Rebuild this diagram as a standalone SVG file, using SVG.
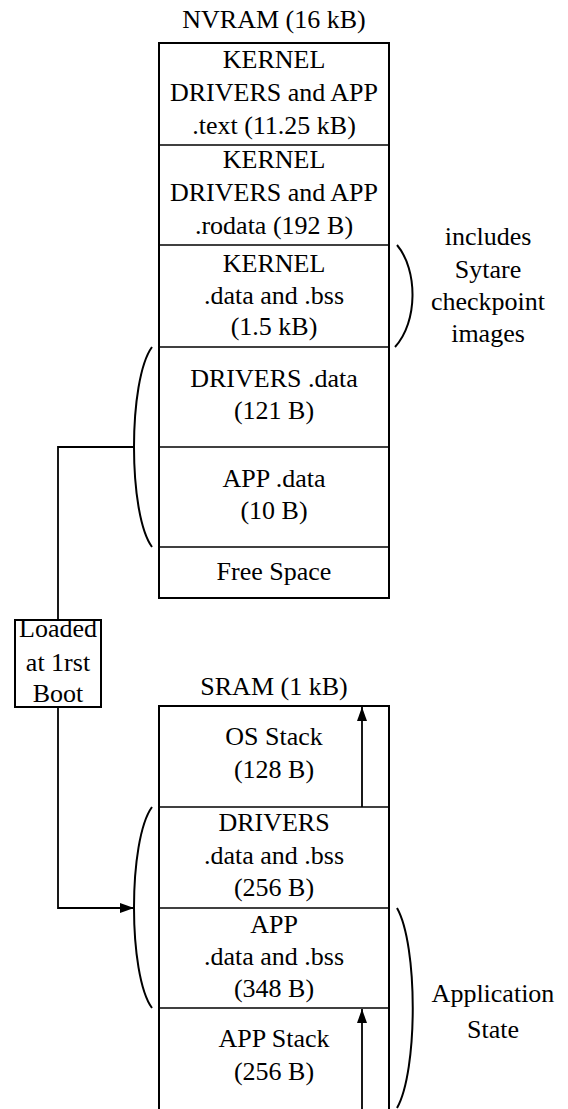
<svg xmlns="http://www.w3.org/2000/svg" width="568" height="1109" viewBox="0 0 568 1109" font-family="Liberation Serif, DejaVu Serif, serif">
<style>
text{font-size:26px;fill:#000;text-anchor:middle}
.outer{fill:#fff;stroke:#000;stroke-width:2}
.sep{stroke:#000;stroke-width:1.5;fill:none}
.ln{stroke:#000;stroke-width:1.8;fill:none}
.br{stroke:#000;stroke-width:2;fill:none}
</style>
<defs>
<marker id="ah2" viewBox="0 0 14 10" refX="14" refY="5" markerWidth="14" markerHeight="10" orient="auto" markerUnits="userSpaceOnUse">
<path d="M0,0 L14,5 L0,10 z" fill="#000"/>
</marker>
</defs>
<g id="nvram">
<text x="274" y="28">NVRAM (16 kB)</text>
<rect class="outer" x="159" y="43" width="230" height="555"/>
<line class="sep" x1="159" y1="145" x2="389" y2="145"/>
<line class="sep" x1="159" y1="245" x2="389" y2="245"/>
<line class="sep" x1="159" y1="347" x2="389" y2="347"/>
<line class="sep" x1="159" y1="447" x2="389" y2="447"/>
<line class="sep" x1="159" y1="547" x2="389" y2="547"/>
</g>
<g id="nv-text">
<text x="274" y="68">KERNEL</text>
<text x="274" y="101">DRIVERS and APP</text>
<text x="274" y="134">.text (11.25 kB)</text>
</g>
<g id="nv-rodata">
<text x="274" y="168">KERNEL</text>
<text x="274" y="201">DRIVERS and APP</text>
<text x="274" y="234">.rodata (192 B)</text>
</g>
<g id="nv-kernel-data">
<text x="274" y="272">KERNEL</text>
<text x="274" y="304">.data and .bss</text>
<text x="274" y="335">(1.5 kB)</text>
</g>
<g id="nv-drivers-data">
<text x="274" y="387">DRIVERS .data</text>
<text x="274" y="419">(121 B)</text>
</g>
<g id="nv-app-data">
<text x="274" y="487">APP .data</text>
<text x="274" y="519">(10 B)</text>
</g>
<g id="nv-free">
<text x="274" y="580">Free Space</text>
</g>
<g id="checkpoint-label">
<path class="br" d="M397,245 C418,270 418,322 395,347"/>
<text x="488" y="245">includes</text>
<text x="488" y="278">Sytare</text>
<text x="488" y="310">checkpoint</text>
<text x="488" y="342">images</text>
</g>
<g id="sram">
<text x="274" y="695">SRAM (1 kB)</text>
<path class="outer" d="M159,1112 L159,706 L389,706 L389,1112"/>
<line class="sep" x1="159" y1="807" x2="389" y2="807"/>
<line class="sep" x1="159" y1="908" x2="389" y2="908"/>
<line class="sep" x1="159" y1="1008" x2="389" y2="1008"/>
</g>
<g id="sr-os">
<text x="274" y="745">OS Stack</text>
<text x="274" y="778">(128 B)</text>
</g>
<g id="sr-drivers">
<text x="274" y="831">DRIVERS</text>
<text x="274" y="864">.data and .bss</text>
<text x="274" y="896">(256 B)</text>
</g>
<g id="sr-app">
<text x="274" y="933">APP</text>
<text x="274" y="965">.data and .bss</text>
<text x="274" y="997">(348 B)</text>
</g>
<g id="sr-appstack">
<text x="274" y="1047">APP Stack</text>
<text x="274" y="1080">(256 B)</text>
</g>
<g id="appstate-label">
<path class="br" d="M397,908 C418,945 418,1071 397,1108"/>
<text x="493" y="1002">Application</text>
<text x="493" y="1038">State</text>
</g>
<g id="loaded-label">
<rect class="outer" x="15" y="620" width="86" height="87"/>
<text x="58" y="637">Loaded</text>
<text x="58" y="671">at 1rst</text>
<text x="58" y="702">Boot</text>
</g>
<g id="connectors">
<path class="br" d="M152,347 C128,380 128,514 152,547"/>
<path class="br" d="M152,807 C128,840 128,975 152,1008"/>
<path class="ln" d="M134,447 L58,447 L58,620"/>
<path class="ln" d="M58,707 L58,908 L134,908" marker-end="url(#ah2)"/>
<line class="ln" x1="362" y1="807" x2="362" y2="707" marker-end="url(#ah2)"/>
<line class="ln" x1="362" y1="1109" x2="362" y2="1009" marker-end="url(#ah2)"/>
</g>
</svg>
